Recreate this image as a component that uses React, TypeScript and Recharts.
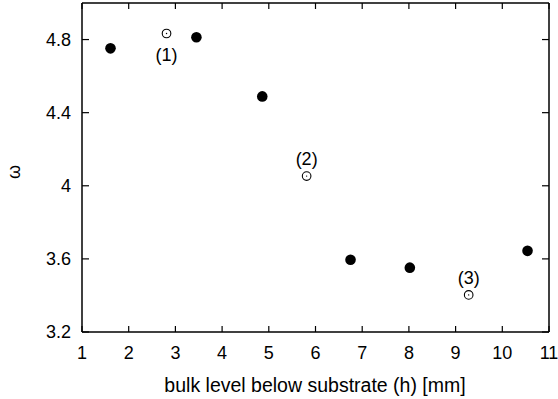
import { ScatterChart, Scatter, XAxis, YAxis, LabelList } from 'recharts';

// filled points
const solidX = [1.61, 3.45, 4.86, 6.75, 8.02, 10.54];
const solidY = [4.752, 4.813, 4.489, 3.595, 3.552, 3.644];

// open points with their labels
const openX = [2.81, 5.81, 9.28];
const openY = [4.833, 4.053, 3.403];
const openLabels = ['(1)', '(2)', '(3)'];
const labelBelow = [true, false, false];

const xTicks = [1, 2, 3, 4, 5, 6, 7, 8, 9, 10, 11];
const yTicks = [3.2, 3.6, 4, 4.4, 4.8];

const solidData = solidX.map((x, i) => ({ x, y: solidY[i] }));
const openData = openX.map((x, i) => ({ x, y: openY[i], label: openLabels[i], below: labelBelow[i] }));

const font = '"Liberation Sans", Arial, sans-serif';
const axisStyle = { stroke: '#000', strokeWidth: 1.5 };
const X_MARGIN = 21;
const Y_MARGIN = 12;
const TICK_X = 6;
const TICK_Y = 7;

// ticks point into the plot, like gnuplot
const BottomTick = (props: any) => {
  const { x, y, payload } = props;
  const y0 = y - X_MARGIN;
  return (
    <g>
      <line x1={x} x2={x} y1={y0} y2={y0 - TICK_X} stroke="#000" strokeWidth={1.2} />
      <text x={x} y={y} textAnchor="middle" dominantBaseline="central" fontSize={18} fontFamily={font} fill="#000">
        {payload.value}
      </text>
    </g>
  );
};

const LeftTick = (props: any) => {
  const { x, y, payload } = props;
  const x0 = x + Y_MARGIN;
  return (
    <g>
      <line x1={x0} x2={x0 + TICK_Y} y1={y} y2={y} stroke="#000" strokeWidth={1.2} />
      <text x={x + 1} y={y} textAnchor="end" dominantBaseline="central" fontSize={18} fontFamily={font} fill="#000">
        {payload.value}
      </text>
    </g>
  );
};

const TopTick = (props: any) => (
  <line x1={props.x} x2={props.x} y1={props.y} y2={props.y + TICK_X} stroke="#000" strokeWidth={1.2} />
);

const RightTick = (props: any) => (
  <line x1={props.x} x2={props.x - TICK_Y} y1={props.y} y2={props.y} stroke="#000" strokeWidth={1.2} />
);

const SolidDot = (props: any) => <circle cx={props.cx} cy={props.cy} r={5.3} fill="#000" />;

const OpenDot = (props: any) => (
  <g>
    <circle cx={props.cx} cy={props.cy} r={4.3} fill="#fff" stroke="#000" strokeWidth={1.1} />
    <circle cx={props.cx} cy={props.cy} r={0.7} fill="#000" />
  </g>
);

const PointLabel = (props: any) => {
  const { x, y, width, height, value, index } = props;
  const cx = x + width / 2;
  const cy = y + height / 2;
  const dy = openData[index].below ? 21 : -17;
  return (
    <text x={cx} y={cy + dy} textAnchor="middle" dominantBaseline="central" fontSize={18} fontFamily={font} fill="#000">
      {value}
    </text>
  );
};

const YLabel = () => (
  <text x={14} y={172} transform="rotate(-90 14 172)" textAnchor="middle" dominantBaseline="central" fontSize={18} fontFamily={font} fill="#000">
    ω
  </text>
);

const XLabel = () => (
  <text x={315} y={385} textAnchor="middle" dominantBaseline="central" fontSize={19.5} fontFamily={font} fill="#000">
    bulk level below substrate (h) [mm]
  </text>
);

export default function App() {
  return (
    <div style={{ position: 'absolute', left: 0, top: 0, background: '#fff' }}>
      <ScatterChart width={558} height={399} margin={{ top: 2, right: 8, bottom: 0, left: 0 }}>
        <XAxis
          xAxisId="b"
          type="number"
          dataKey="x"
          domain={[1, 11]}
          ticks={xTicks}
          allowDataOverflow
          height={67}
          axisLine={axisStyle}
          tickLine={false}
          tickSize={0}
          tickMargin={X_MARGIN}
          tick={BottomTick}
          interval={0}
          label={<XLabel />}
        />
        <XAxis
          xAxisId="t"
          orientation="top"
          type="number"
          dataKey="x"
          domain={[1, 11]}
          ticks={xTicks}
          allowDataOverflow
          height={1}
          axisLine={axisStyle}
          tickLine={false}
          tickSize={0}
          tickMargin={0}
          tick={TopTick}
          interval={0}
        />
        <YAxis
          yAxisId="l"
          type="number"
          dataKey="y"
          domain={[3.2, 5.0]}
          ticks={yTicks}
          allowDataOverflow
          width={82}
          axisLine={axisStyle}
          tickLine={false}
          tickSize={0}
          tickMargin={Y_MARGIN}
          tick={LeftTick}
          interval={0}
          label={<YLabel />}
        />
        <YAxis
          yAxisId="r"
          orientation="right"
          type="number"
          dataKey="y"
          domain={[3.2, 5.0]}
          ticks={yTicks}
          allowDataOverflow
          width={1}
          axisLine={axisStyle}
          tickLine={false}
          tickSize={0}
          tickMargin={0}
          tick={RightTick}
          interval={0}
        />
        <Scatter data={solidData} xAxisId="b" yAxisId="l" shape={SolidDot} isAnimationActive={false} />
        <Scatter data={openData} xAxisId="b" yAxisId="l" shape={OpenDot} isAnimationActive={false}>
          <LabelList dataKey="label" content={PointLabel} />
        </Scatter>
      </ScatterChart>
    </div>
  );
}
